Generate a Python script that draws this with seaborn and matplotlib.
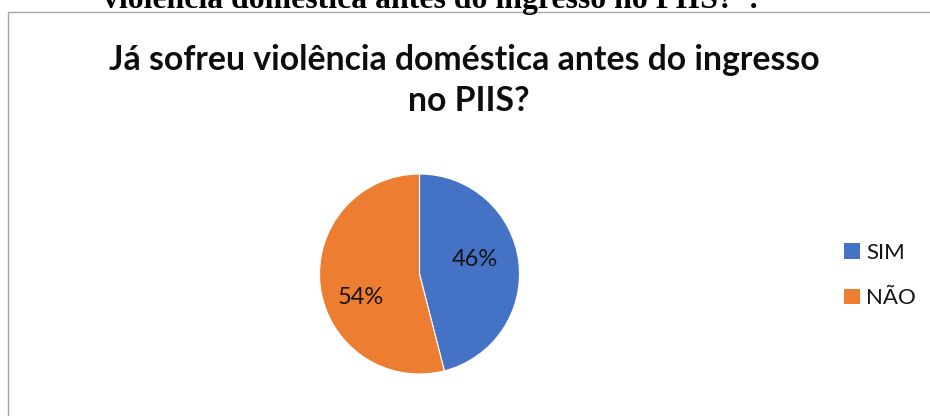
import matplotlib
matplotlib.use("Agg")
import matplotlib.pyplot as plt
import matplotlib.patches as mpatches
import seaborn as sns

# ---- data ----
categories = ["SIM", "NÃO"]
values = [46, 54]
colors_hex = ["#4472C4", "#ED7D31"]
title_lines = ["Já sofreu violência doméstica antes do ingresso", "no PIIS?"]
caption_text = "violência doméstica antes do ingresso no PIIS?  ."

sns.set_theme(style="white")
plt.rcParams["font.family"] = ["Lato", "DejaVu Sans"]
palette = sns.color_palette(colors_hex)

W, H = 930, 416
fig = plt.figure(figsize=(W / 100, H / 100), dpi=100)
fig.patch.set_facecolor("white")

def fx(px):
    return px / W

def fy(py):
    return 1 - py / H

# chart-area border (extends beyond right/bottom edges)
border = mpatches.Rectangle((fx(7.5), -0.1), 1.2, fy(12.5) + 0.1,
                            transform=fig.transFigure, fill=False,
                            edgecolor="#A6A6A6", linewidth=1.0, zorder=0)
fig.add_artist(border)

renderer = fig.canvas.get_renderer()

def fit_text(t, target_w):
    bb = t.get_window_extent(renderer=renderer)
    t.set_fontsize(t.get_fontsize() * target_w / bb.width)

# clipped caption at top (document text above the chart)
cap = fig.text(fx(103), fy(8), caption_text, ha="left", va="baseline",
               fontsize=20, fontweight="bold",
               family=["Liberation Serif", "DejaVu Serif"], color="black")
fit_text(cap, 755 - 103)

# title
t1 = fig.text(fx(464), fy(70), title_lines[0], ha="center", va="baseline",
              fontsize=22, fontweight="bold", color="#0d0d0d")
fit_text(t1, 818 - 110)
t2 = fig.text(fx(469), fy(111), title_lines[1], ha="center", va="baseline",
              fontsize=t1.get_fontsize(), fontweight="bold", color="#0d0d0d")

# pie
cx, cy, r = 419.5, 274, 100
ax = fig.add_axes([fx(cx - r), fy(cy + r), 2 * r / W, 2 * r / H])
wedges, texts, autotexts = ax.pie(
    values, colors=palette, startangle=90, counterclock=False,
    autopct=lambda p: f"{p:.0f}%", pctdistance=0.6,
    wedgeprops=dict(edgecolor="white", linewidth=0.8),
    textprops=dict(fontsize=17, color="#141414"))
ax.set_xlim(-1, 1)
ax.set_ylim(-1, 1)
ax.set_aspect("auto")
ax.axis("off")
# best-fit style label placement
label_pos = [(0.555, 0.15), (-0.585, -0.24)]
for at, pos in zip(autotexts, label_pos):
    at.set_position(pos)
    at.set_ha("center")
    at.set_va("center")

# legend
handles = [mpatches.Patch(facecolor=c, edgecolor="none") for c in palette]
fig.legend(handles, categories, loc="center left",
           bbox_to_anchor=(fx(844), fy(275.5)), bbox_transform=fig.transFigure,
           frameon=False, fontsize=16, handlelength=0.7, handleheight=0.7,
           handletextpad=0.3, labelspacing=1.15, borderpad=0, borderaxespad=0,
           labelcolor="#141414")

fig.savefig("out.png", dpi=100, facecolor="white")
